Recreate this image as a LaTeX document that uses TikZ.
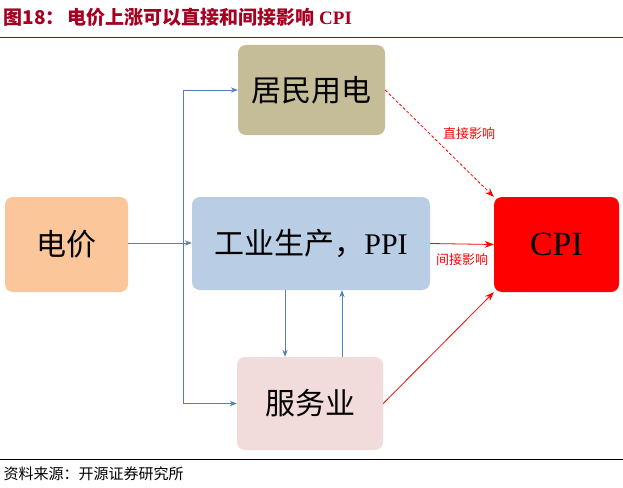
\documentclass[tikz,border=0pt]{standalone}
\usepackage{fontspec}
\setmainfont{Liberation Serif}
\newfontfamily\cjk{Noto Sans CJK SC}
\usetikzlibrary{positioning, arrows.meta}
\definecolor{tan}{HTML}{C4BD97}
\definecolor{peach}{HTML}{FAC69A}
\definecolor{paleblue}{HTML}{B9CDE5}
\definecolor{palepink}{HTML}{F2DCDB}
\definecolor{linkblue}{HTML}{4F81BD}
\definecolor{titlered}{HTML}{A50021}
\begin{document}
\begin{tikzpicture}[x=1pt, y=-1pt,
			box/.style = {rectangle, rounded corners=8pt, draw=none, text centered, font=\cjk\fontsize{30}{32}\selectfont},
			blueArrow/.style = {linkblue, thick, -{Stealth[length=7pt]}},
			redArrow/.style = {red, thick, -{Stealth[length=9pt]}},
		]
		\useasboundingbox (0,0) rectangle (623,487);
		\node[anchor=west, text=titlered, font=\cjk\bfseries\fontsize{19}{21}\selectfont] (title) at (0,17) {图18：\,电价上涨可以直接和间接影响 \textrm{\textbf{CPI}}};
		\draw[titlered, thick] (0,37) -- (623,37);
		\draw (0,459) -- (623,459);
		\node[anchor=west, font=\cjk\fontsize{15}{17}\selectfont] (src) at (0,474) {资料来源：开源证券研究所};

		\node[box, fill=tan, minimum width=147pt, minimum height=90pt] (home) at (311.5,90) {居民用电};
		\node[box, fill=peach, minimum width=123pt, minimum height=95pt] (price) at (66.5,244.5) {电价};
		\node[box, fill=paleblue, minimum width=238pt, minimum height=93pt] (ppi) at (311,243.5) {工业生产，\textrm{PPI}};
		\node[box, fill=red, minimum width=125pt, minimum height=95pt, font=\fontsize{34}{36}\selectfont] (cpi) at (556.5,244.5) {CPI};
		\node[box, fill=palepink, minimum width=146pt, minimum height=93pt] (serv) at (310,403.5) {服务业};

		\coordinate (split) at (183,243);
		\draw[blueArrow] (price.east |- split) -- (ppi.west |- split);
		\draw[blueArrow] (split) |- (home.west);
		\draw[blueArrow] (split) |- (serv.west);
		\draw[blueArrow] (ppi.south -| 285,0) -- (serv.north -| 285,0);
		\draw[blueArrow] (serv.north -| 342,0) -- (ppi.south -| 342,0);

		\draw[redArrow, densely dashed] (home.east) -- (cpi.north west)
			node[pos=0.5, above right, text=red, font=\cjk\fontsize{13}{15}\selectfont] {直接影响};
		\draw[redArrow] (ppi.east) -- (cpi.west)
			node[pos=0.5, below=6pt, text=red, font=\cjk\fontsize{13}{15}\selectfont] {间接影响};
		\draw[redArrow] (serv.east) -- (cpi.south west);
	\end{tikzpicture}
\end{document}
